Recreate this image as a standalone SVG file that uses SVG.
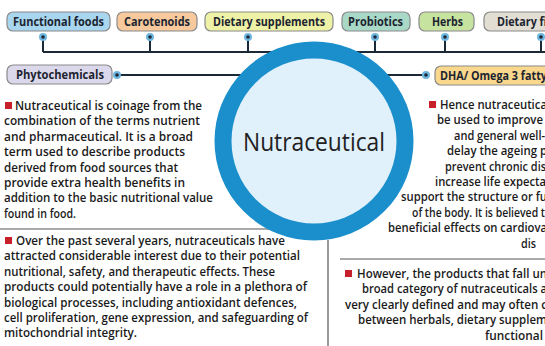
<svg xmlns="http://www.w3.org/2000/svg" width="545" height="346" viewBox="0 0 545 346">
<style>
.lbl{font-family:"Open Sans","Liberation Sans",sans-serif;font-weight:700;font-size:12px;fill:#1c2430}
.box{stroke:#8a8a8a;stroke-width:1.2}
.body{font-family:"Open Sans","Liberation Sans",sans-serif;font-weight:600;font-size:12.5px;fill:#1a1a1a}
.conn{stroke:#1b2838;stroke-width:2;fill:none}
.halo{fill:#6fb6de}
.dot{fill:#1b2838}
.bul{fill:#c8202a}
.rule{stroke:#555;stroke-width:1.2}
</style>
<defs>
<g id="pin"><circle r="4" class="halo"/><circle r="1.8" class="dot"/></g>
</defs>
<rect width="545" height="346" fill="#ffffff"/>

<g id="connectors">
<line class="conn" x1="43" y1="52" x2="545" y2="52"/>
<line class="conn" x1="43" y1="37" x2="43" y2="52"/>
<line class="conn" x1="150" y1="37" x2="150" y2="52"/>
<line class="conn" x1="248" y1="37" x2="248" y2="52"/>
<line class="conn" x1="375" y1="37" x2="375" y2="52"/>
<line class="conn" x1="445" y1="37" x2="445" y2="52"/>
<line class="conn" x1="541" y1="37" x2="541" y2="52"/>
<line class="conn" x1="117" y1="75" x2="245" y2="75"/>
<line class="conn" x1="385" y1="75" x2="426" y2="75"/>
<use href="#pin" x="43" y="37"/>
<use href="#pin" x="150" y="37"/>
<use href="#pin" x="248" y="37"/>
<use href="#pin" x="375" y="37"/>
<use href="#pin" x="445" y="37"/>
<use href="#pin" x="541" y="37"/>
<use href="#pin" x="117" y="75"/>
<use href="#pin" x="426" y="75"/>
</g>

<g id="rules">
<line class="rule" x1="0" y1="229" x2="280" y2="229"/>
<line class="rule" x1="340" y1="259" x2="545" y2="259"/>
<line class="rule" x1="328" y1="240" x2="328" y2="346"/>
</g>

<g id="functional-foods">
<rect class="box" x="7" y="12" width="103" height="19" rx="6" fill="#a9d6ef"/>
<text class="lbl" x="13" y="25.5" textLength="91" lengthAdjust="spacingAndGlyphs">Functional foods</text>
</g>
<g id="carotenoids">
<rect class="box" x="117" y="12" width="80" height="19" rx="6" fill="#f7c99c"/>
<text class="lbl" x="124" y="25.5" textLength="66" lengthAdjust="spacingAndGlyphs">Carotenoids</text>
</g>
<g id="dietary-supplements">
<rect class="box" x="205" y="12" width="128" height="19" rx="6" fill="#eef2a6"/>
<text class="lbl" x="213" y="25.5" textLength="112" lengthAdjust="spacingAndGlyphs">Dietary supplements</text>
</g>
<g id="probiotics">
<rect class="box" x="342" y="12" width="68" height="19" rx="6" fill="#a8d8c6"/>
<text class="lbl" x="348" y="25.5" textLength="55" lengthAdjust="spacingAndGlyphs">Probiotics</text>
</g>
<g id="herbs">
<rect class="box" x="419" y="12" width="55" height="19" rx="6" fill="#c6e3a0"/>
<text class="lbl" x="432" y="25.5" textLength="31" lengthAdjust="spacingAndGlyphs">Herbs</text>
</g>
<g id="dietary-fibre">
<rect class="box" x="484" y="12" width="80" height="19" rx="6" fill="#e3ded3"/>
<text class="lbl" x="497" y="25.5" textLength="50" lengthAdjust="spacingAndGlyphs">Dietary fi</text>
</g>
<g id="phytochemicals">
<rect class="box" x="7" y="65" width="105" height="19" rx="6" fill="#dcd8ec"/>
<text class="lbl" x="16" y="78.5" textLength="88" lengthAdjust="spacingAndGlyphs">Phytochemicals</text>
</g>
<g id="dha-omega">
<rect class="box" x="435" y="66" width="125" height="19" rx="6" fill="#f9d88e"/>
<text class="lbl" x="440" y="79.5" textLength="107" lengthAdjust="spacingAndGlyphs">DHA/ Omega 3 fatty</text>
</g>

<g id="nutraceutical">
<circle cx="314" cy="141" r="91" fill="#e1f1fb" stroke="#1a8fcc" stroke-width="17"/>
<text x="314" y="151" text-anchor="middle" font-family="Open Sans, Liberation Sans, sans-serif" font-size="25" fill="#222" textLength="142" lengthAdjust="spacingAndGlyphs">Nutraceutical</text>
</g>

<g id="para-definition">
<rect class="bul" x="5" y="102" width="7" height="7"/>
<text class="body" x="15" y="110" textLength="187" lengthAdjust="spacingAndGlyphs">Nutraceutical is coinage from the</text>
<text class="body" x="4" y="125.4" textLength="196" lengthAdjust="spacingAndGlyphs">combination of the terms nutrient</text>
<text class="body" x="4" y="140.8" textLength="189" lengthAdjust="spacingAndGlyphs">and pharmaceutical. It is a broad</text>
<text class="body" x="4" y="156.2" textLength="181" lengthAdjust="spacingAndGlyphs">term used to describe products</text>
<text class="body" x="4" y="171.6" textLength="174" lengthAdjust="spacingAndGlyphs">derived from food sources that</text>
<text class="body" x="4" y="187" textLength="181" lengthAdjust="spacingAndGlyphs">provide extra health benefits in</text>
<text class="body" x="4" y="202.4" textLength="209" lengthAdjust="spacingAndGlyphs">addition to the basic nutritional value</text>
<text class="body" x="4" y="217.8" textLength="72" lengthAdjust="spacingAndGlyphs">found in food.</text>
</g>

<g id="para-interest">
<rect class="bul" x="5" y="237" width="7" height="7"/>
<text class="body" x="16" y="245" textLength="269" lengthAdjust="spacingAndGlyphs">Over the past several years, nutraceuticals have</text>
<text class="body" x="4" y="260.4" textLength="296" lengthAdjust="spacingAndGlyphs">attracted considerable interest due to their potential</text>
<text class="body" x="4" y="275.8" textLength="271" lengthAdjust="spacingAndGlyphs">nutritional, safety, and therapeutic effects. These</text>
<text class="body" x="4" y="291.2" textLength="303" lengthAdjust="spacingAndGlyphs">products could potentially have a role in a plethora of</text>
<text class="body" x="4" y="306.6" textLength="293" lengthAdjust="spacingAndGlyphs">biological processes, including antioxidant defences,</text>
<text class="body" x="4" y="322" textLength="304" lengthAdjust="spacingAndGlyphs">cell proliferation, gene expression, and safeguarding of</text>
<text class="body" x="4" y="337.4" textLength="133" lengthAdjust="spacingAndGlyphs">mitochondrial integrity.</text>
</g>

<g id="para-benefits">
<rect class="bul" x="429" y="101" width="7" height="7"/>
<text class="body" x="440" y="109" textLength="107" lengthAdjust="spacingAndGlyphs">Hence nutraceutica</text>
<text class="body" x="437" y="124.4" textLength="106" lengthAdjust="spacingAndGlyphs">be used to improve</text>
<text class="body" x="454" y="139.8" textLength="91" lengthAdjust="spacingAndGlyphs">and general well-</text>
<text class="body" x="447" y="155.2" textLength="100" lengthAdjust="spacingAndGlyphs">delay the ageing p</text>
<text class="body" x="445" y="170.6" textLength="101" lengthAdjust="spacingAndGlyphs">prevent chronic dis</text>
<text class="body" x="435" y="186" textLength="111" lengthAdjust="spacingAndGlyphs">increase life expecta</text>
<text class="body" x="401" y="201.4" textLength="146" lengthAdjust="spacingAndGlyphs">support the structure or fu</text>
<text class="body" x="412" y="216.8" textLength="133" lengthAdjust="spacingAndGlyphs">of the body. It is believed t</text>
<text class="body" x="388" y="232.2" textLength="159" lengthAdjust="spacingAndGlyphs">beneficial effects on cardiova</text>
<text class="body" x="521" y="247.6" textLength="15" lengthAdjust="spacingAndGlyphs">dis</text>
</g>

<g id="para-category">
<rect class="bul" x="345" y="270" width="7" height="7"/>
<text class="body" x="357" y="278" textLength="190" lengthAdjust="spacingAndGlyphs">However, the products that fall un</text>
<text class="body" x="362" y="293.4" textLength="185" lengthAdjust="spacingAndGlyphs">broad category of nutraceuticals a</text>
<text class="body" x="345" y="308.8" textLength="202" lengthAdjust="spacingAndGlyphs">very clearly defined and may often c</text>
<text class="body" x="358" y="324.2" textLength="189" lengthAdjust="spacingAndGlyphs">between herbals, dietary supplem</text>
<text class="body" x="485" y="339.6" textLength="58" lengthAdjust="spacingAndGlyphs">functional</text>
</g>
</svg>
